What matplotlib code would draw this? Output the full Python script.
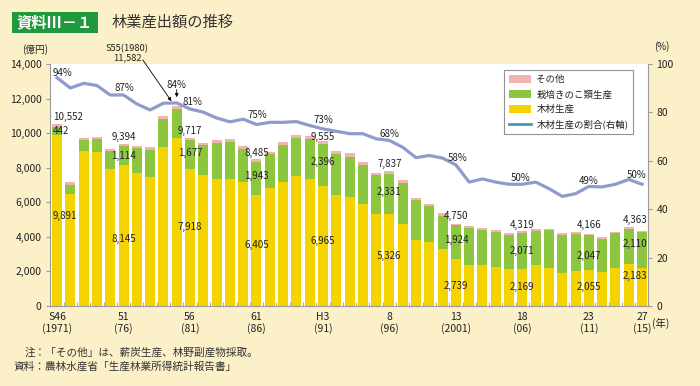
import numpy as np
import matplotlib
matplotlib.use('Agg')
import matplotlib.pyplot as plt
from matplotlib.patches import Patch, Rectangle
from matplotlib.lines import Line2D

plt.rcParams['font.family'] = ['Noto Sans CJK JP', 'DejaVu Sans']

# ---- data (億円, %) ----
years = list(range(1971, 2016))
wood = [9891, 6500, 8965, 8890, 7940, 8145, 7690, 7455, 9220, 9700,
        7918, 7550, 7360, 7360, 7164, 6405, 6840, 7200, 7510, 7320,
        6965, 6410, 6290, 5925, 5305, 5326, 4725, 3795, 3680, 3295,
        2739, 2380, 2380, 2250, 2130, 2169, 2380, 2190, 1900, 2034,
        2055, 1960, 2190, 2420, 2183]
mushroom = [442, 500, 620, 755, 1025, 1114, 1450, 1570, 1590, 1720,
            1677, 1765, 2090, 2130, 1940, 1943, 1935, 2110, 2230, 2365,
            2396, 2365, 2350, 2245, 2250, 2331, 2380, 2320, 2090, 1935,
            1924, 2130, 1995, 2030, 1995, 2071, 1975, 2185, 2207, 2150,
            2047, 1915, 2010, 2035, 2110]
other = [219, 150, 160, 155, 140, 135, 140, 150, 170, 162,
         122, 137, 150, 155, 154, 137, 155, 175, 155, 155,
         194, 170, 190, 140, 155, 180, 156, 155, 155, 155,
         87, 135, 140, 135, 115, 79, 100, 100, 95, 100,
         64, 93, 100, 95, 70]
share = [94.3, 90.1, 92.0, 91.1, 87.2, 87.2, 83.5, 81.0, 83.8, 83.9,
         81.4, 80.1, 77.7, 76.1, 77.2, 75.0, 75.9, 75.9, 76.2, 74.6,
         73.2, 72.2, 71.2, 71.2, 69.1, 68.4, 65.6, 61.3, 62.2, 61.1,
         58.3, 51.2, 52.5, 51.2, 50.3, 50.3, 51.2, 48.5, 45.3, 46.4,
         49.4, 49.2, 50.3, 52.3, 50.3]

tick_years = [1971, 1976, 1981, 1986, 1991, 1996, 2001, 2006, 2011, 2015]
tick_labels = ['S46\n(1971)', '51\n(76)', '56\n(81)', '61\n(86)', 'H3\n(91)',
               '8\n(96)', '13\n(2001)', '18\n(06)', '23\n(11)', '27\n(15)']
label_years = [1971, 1976, 1981, 1986, 1991, 1996, 2001, 2006, 2011, 2015]
pct_years = [1971, 1976, 1980, 1981, 1986, 1991, 1996, 2001, 2006, 2011, 2015]

cream = '#FBF0C8'
yellow = '#F5D300'
green = '#8CC63F'
pink = '#F3B3B0'
lineblue = '#8F9CCB'
grey = '#9A9A9A'
txt = '#222222'

wood = np.array(wood)
mushroom = np.array(mushroom)
other = np.array(other)
total = wood + mushroom + other
x = np.arange(len(years))
idx = {y: i for i, y in enumerate(years)}

fig = plt.figure(figsize=(7, 3.86), dpi=100, facecolor=cream)
ax = fig.add_axes([50/700, 80/386, 598/700, 242/386])
ax.set_facecolor('white')

w = 0.75
ax.bar(x, wood, w, color=yellow, zorder=2)
ax.bar(x, mushroom, w, bottom=wood, color=green, zorder=2)
ax.bar(x, other, w, bottom=wood + mushroom, color=pink, zorder=2)
ax.set_xlim(-0.53, 44.45)
ax.set_ylim(0, 14000)
ax.set_yticks(range(0, 14001, 2000))
ax.set_yticklabels([f'{v:,}' for v in range(0, 14001, 2000)])
ax.set_xticks([idx[y] for y in tick_years])
ax.set_xticklabels(tick_labels, linespacing=1.15)
ax.set_xticks(np.arange(0.5, 44, 1), minor=True)
ax.tick_params(axis='x', which='major', length=0, pad=4, labelsize=7.5, labelcolor=txt)
ax.tick_params(axis='x', which='minor', direction='in', length=3, color=grey)
ax.tick_params(axis='y', length=3, color=grey, labelsize=7.5, labelcolor=txt, pad=3)
for s in ['top', 'right']:
    ax.spines[s].set_visible(False)
for s in ['left', 'bottom']:
    ax.spines[s].set_color(grey)

ax2 = ax.twinx()
ax2.set_ylim(0, 100)
ax2.set_yticks(range(0, 101, 20))
ax2.plot(x, share, color=lineblue, lw=2.3, solid_joinstyle='round', zorder=3)
ax2.tick_params(axis='y', length=3, color=grey, labelsize=7.5, labelcolor=txt, pad=3)
for s in ['top', 'left', 'bottom']:
    ax2.spines[s].set_visible(False)
ax2.spines['right'].set_color(grey)

# value labels: y in axis units, one per labelled year
tot_y = [10920, 9800, 10127, 8870, 9800, 8230, 5190, 4706, 4666, 4956]
mus_y = [10110, 8675, 8870, 7513, 8326, 6583, 3796, 3155, 2866, 3602]
wod_y = [5230, 3875, 4570, 3503, 3736, 2866, 1162, 1121, 1086, 1743]
for k, yr in enumerate(label_years):
    i = idx[yr]
    if yr == 1971:
        xp, ha = i - 0.32, 'left'
    elif yr == 2015:
        xp, ha = i + 0.38, 'right'
    else:
        xp, ha = i, 'center'
    kw = dict(ha=ha, va='center', fontsize=7, color=txt, zorder=5)
    ax.text(xp, tot_y[k], f'{total[i]:,}', **kw)
    ax.text(xp, mus_y[k], f'{mushroom[i]:,}', **kw)
    ax.text(xp, wod_y[k], f'{wood[i]:,}', **kw)

pct_pos = [(0.38, 96.4), (5.04, 90.1), (8.95, 91.3), (10.2, 84.2), (15.1, 79.0),
           (20.0, 76.9), (25.0, 70.9), (30.1, 61.3), (34.9, 52.9), (40.0, 51.6),
           (43.6, 54.3)]
for yr, (px, py) in zip(pct_years, pct_pos):
    ax2.text(px, py, f'{round(share[idx[yr]])}%', ha='center', va='center',
             fontsize=7, color=txt, zorder=5)

arrow = dict(arrowstyle='-|>', lw=0.6, color='black', mutation_scale=5,
             shrinkA=0, shrinkB=0)
i80 = idx[1980]
ax2.annotate('', xy=(i80, 86.3), xytext=(i80, 89.4), arrowprops=arrow)
ax.annotate('', xy=(i80 - 0.4, 11850), xytext=(i80 - 2.55, 14235),
            arrowprops=arrow, annotation_clip=False)
ax.text(i80 - 3.75, 14860, 'S55(1980)', ha='center', va='center', fontsize=6.7,
        color=txt, clip_on=False)
ax.text(i80 - 3.7, 14330, f'{total[i80]:,}', ha='center', va='center', fontsize=6.7,
        color=txt, clip_on=False)

handles = [Patch(facecolor=pink, edgecolor='none'),
           Patch(facecolor=green, edgecolor='none'),
           Patch(facecolor=yellow, edgecolor='none'),
           Line2D([0], [0], color='#3F9AB8', lw=2)]
names = ['その他', '栽培きのこ類生産', '木材生産', '木材生産の割合(右軸)']
leg = ax2.legend(handles, names, loc='upper left', bbox_to_anchor=(0.755, 0.985),
                 fontsize=6.8, frameon=True, fancybox=False, handlelength=2.3,
                 handleheight=0.9, labelspacing=0.6, borderpad=0.5,
                 handletextpad=0.6, borderaxespad=0.3)
leg.get_frame().set_edgecolor('#777777')
leg.get_frame().set_linewidth(0.8)
for t in leg.get_texts():
    t.set_color(txt)

# axis unit labels
fig.text(35/700, 1 - 50/386, '(億円)', ha='center', va='center', fontsize=7, color=txt)
fig.text(662/700, 1 - 47/386, '(%)', ha='center', va='center', fontsize=7, color=txt)
fig.text(652/700, 1 - 323/386, '(年)', ha='left', va='center', fontsize=7.5, color=txt)

# title
fig.patches.append(Rectangle((12/700, 1 - 33/386), 86/700, 21/386,
                             transform=fig.transFigure, facecolor='#1E9A3C',
                             edgecolor='none'))
fig.text(55/700, 1 - 22.5/386, '資料Ⅲ－１', ha='center', va='center',
         fontsize=11, color='white', fontweight='bold')
fig.text(112/700, 1 - 22.5/386, '林業産出額の推移', ha='left', va='center',
         fontsize=11, color='#333333')

# notes
fig.text(25/700, 1 - 353/386, '注：「その他」は、薪炭生産、林野副産物採取。',
         ha='left', va='center', fontsize=7.7, color='#333333')
fig.text(13/700, 1 - 366/386, '資料：農林水産省「生産林業所得統計報告書」',
         ha='left', va='center', fontsize=7.7, color='#333333')

fig.savefig('out.png', dpi=100, facecolor=cream)
